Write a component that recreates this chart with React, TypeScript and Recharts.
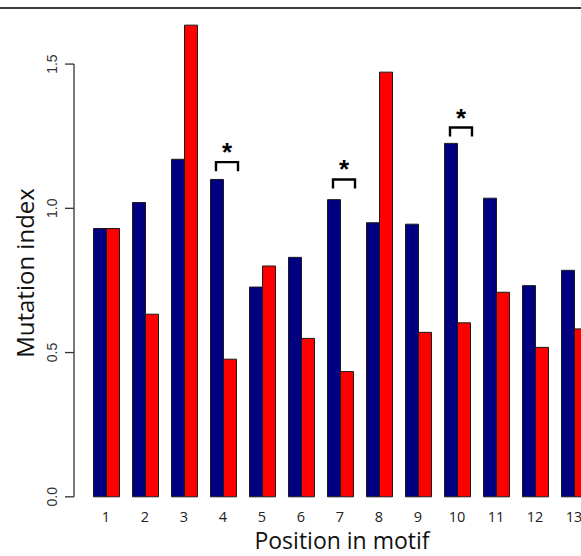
import React from 'react';
import { BarChart, Bar, XAxis, YAxis, ReferenceLine, ReferenceDot } from 'recharts';

const positions = ['1', '2', '3', '4', '5', '6', '7', '8', '9', '10', '11', '12', '13'];
const blueValues = [0.93, 1.02, 1.17, 1.1, 0.727, 0.83, 1.03, 0.95, 0.945, 1.225, 1.035, 0.732, 0.785];
const redValues = [0.93, 0.633, 1.635, 0.477, 0.8, 0.549, 0.434, 1.472, 0.57, 0.603, 0.709, 0.518, 0.582];
const yTicks = [0, 0.5, 1, 1.5];
const sigPositions = ['4', '7', '10'];
const sigLevels = [1.16, 1.1, 1.28];

const data = positions.map((p, i) => ({ pos: p, blue: blueValues[i], red: redValues[i] }));

const YTick = (props: any) => {
  const { x, y, payload } = props;
  const tx = x - 8;
  return (
    <text
      x={tx}
      y={y}
      transform={`rotate(-90, ${tx}, ${y})`}
      textAnchor="middle"
      fontFamily="'Liberation Sans', Arial, sans-serif"
      fontSize={14}
      fill="#333"
    >
      {payload.value.toFixed(1)}
    </text>
  );
};

const XTick = (props: any) => {
  const { x, y, payload } = props;
  return (
    <text x={x} y={y + 25} textAnchor="middle" fontFamily="'Open Sans', sans-serif" fontSize={14.5} fill="#222">
      {payload.value}
    </text>
  );
};

const Bracket = (props: any) => {
  const { cx, cy } = props;
  return (
    <g>
      <path
        d={`M${cx - 7},${cy + 9} L${cx - 7},${cy} L${cx + 15},${cy} L${cx + 15},${cy + 9}`}
        fill="none"
        stroke="#000"
        strokeWidth={2.4}
      />
      <text x={cx + 4} y={cy - 1} textAnchor="middle" fontFamily="'Liberation Sans', Arial, sans-serif" fontWeight="bold" fontSize={26} fill="#000">
        *
      </text>
    </g>
  );
};

const AxisLineShape = (props: any) => (
  <line x1={74} x2={74} y1={props.y1} y2={props.y2} stroke="#333" strokeWidth={1.3} />
);

export default function App() {
  return (
    <div style={{ position: 'absolute', left: 0, top: 0, width: 581, height: 556, overflow: 'hidden', background: '#fff' }}>
      <style>{'body{margin:0}'}</style>
      <div style={{ position: 'absolute', left: 0, top: 7, width: 581, height: 2, background: '#3a3a3a' }} />
      <BarChart
        width={594}
        height={560}
        data={data}
        margin={{ top: 20.8, right: 0.5, bottom: 0, left: 0 }}
        barGap={0}
        barSize={13}
      >
        <XAxis
          dataKey="pos"
          axisLine={false}
          tickLine={false}
          tickSize={0}
          tickMargin={0}
          height={63.2}
          padding={{ left: 12.5, right: 0 }}
          interval={0}
          tick={<XTick />}
          label={{
            content: () => (
              <text x={342} y={549} textAnchor="middle" fontFamily="'Open Sans', sans-serif" fontSize={23} fill="#111">
                Position in motif
              </text>
            ),
          }}
        />
        <YAxis
          type="number"
          domain={[0, 1.65]}
          ticks={yTicks}
          width={74}
          axisLine={false}
          tickLine={{ stroke: '#333', strokeWidth: 1.3 }}
          tickSize={9}
          tickMargin={0}
          tick={<YTick />}
          label={{
            content: () => (
              <text
                x={34}
                y={273}
                transform="rotate(-90, 34, 273)"
                textAnchor="middle"
                fontFamily="'Open Sans', sans-serif"
                fontSize={24}
                fill="#111"
              >
                Mutation index
              </text>
            ),
          }}
        />
        <Bar dataKey="blue" fill="#000080" stroke="#1a1a1a" strokeWidth={1} isAnimationActive={false} />
        <Bar dataKey="red" fill="#ff0000" stroke="#1a1a1a" strokeWidth={1} isAnimationActive={false} />
        <ReferenceLine
          segment={[{ x: '1', y: 0 }, { x: '1', y: 1.5 }]}
          ifOverflow="visible"
          shape={AxisLineShape}
        />
        {sigPositions.map((p, i) => (
          <ReferenceDot key={p} x={p} y={sigLevels[i]} r={0} ifOverflow="visible" shape={Bracket} />
        ))}
      </BarChart>
    </div>
  );
}
